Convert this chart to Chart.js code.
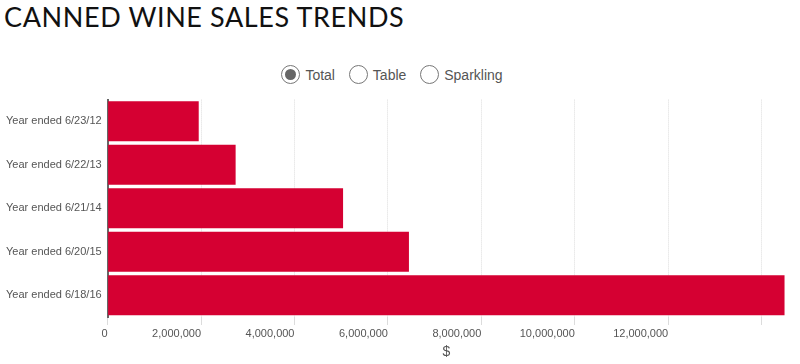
<!DOCTYPE html>
<html lang="en">
<head>
    <meta charset="UTF-8">
    <title>Canned Wine Sales Trends</title>
    <script src="https://cdn.jsdelivr.net/npm/chart.js@4/dist/chart.umd.min.js"></script>
    <style>
        * {
            margin: 0;
            padding: 0;
            box-sizing: border-box;
        }

        body {
            width: 800px;
            height: 364px;
            background: #ffffff;
            position: relative;
            overflow: hidden;
            font-family: 'Liberation Sans', Arial, sans-serif;
        }

        h1 {
            position: absolute;
            left: 4px;
            top: 0px;
            font-family: 'Lato', sans-serif;
            font-weight: 400;
            font-size: 27px;
            letter-spacing: 0.6px;
            color: #111;
        }

        .filters {
            position: absolute;
            top: 65px;
            left: 0;
            width: 784px;
            text-align: center;
            font-size: 14px;
            color: #555;
        }

        .filters label {
            display: inline-flex;
            align-items: center;
            margin: 0 5px;
        }

        .filters input {
            appearance: none;
            width: 19px;
            height: 19px;
            border: 1.5px solid #777;
            border-radius: 50%;
            margin-right: 5px;
            position: relative;
        }

        .filters input:checked::after {
            content: '';
            position: absolute;
            left: 2.5px;
            top: 2.5px;
            width: 11px;
            height: 11px;
            border-radius: 50%;
            background: #666;
        }

        .chart-box {
            position: absolute;
            left: 0;
            top: 87px;
            width: 800px;
            height: 277px;
        }
    </style>
</head>
<body>
    <h1>CANNED WINE SALES TRENDS</h1>

    <div class="filters">
        <label><input type="radio" name="type" checked>Total</label>
        <label><input type="radio" name="type">Table</label>
        <label><input type="radio" name="type">Sparkling</label>
    </div>

    <div class="chart-box">
        <canvas id="salesChart"></canvas>
    </div>

    <script>
        // data
        const years = [
            'Year ended 6/23/12',
            'Year ended 6/22/13',
            'Year ended 6/21/14',
            'Year ended 6/20/15',
            'Year ended 6/18/16'
        ];
        const totalSales = [1950000, 2740000, 5040000, 6450000, 14490000];
        const axisMax = 14500000;
        const xTicks = [0, 2000000, 4000000, 6000000, 8000000, 10000000, 12000000, 14000000];
        const lastLabel = 12000000;

        const ctx = document.getElementById('salesChart').getContext('2d');
        new Chart(ctx, {
            type: 'bar',
            data: {
                labels: years,
                datasets: [{
                    label: 'Total',
                    data: totalSales,
                    backgroundColor: '#d50032',
                    barPercentage: 0.92,
                    categoryPercentage: 1.0
                }]
            },
            options: {
                indexAxis: 'y',
                responsive: true,
                maintainAspectRatio: false,
                animation: false,
                layout: {
                    padding: { top: 3, right: 15, left: 0, bottom: 3 }
                },
                plugins: {
                    legend: { display: false },
                    tooltip: { enabled: false }
                },
                scales: {
                    x: {
                        min: 0,
                        max: axisMax,
                        afterBuildTicks: (scale) => {
                            scale.ticks = xTicks.map(v => ({ value: v }));
                        },
                        ticks: {
                            autoSkip: false,
                            maxRotation: 0,
                            align: 'end',
                            color: '#555',
                            font: { family: 'Liberation Sans', size: 11 },
                            padding: 2,
                            callback: (v) => v > lastLabel ? '' : v.toLocaleString('en-US')
                        },
                        grid: {
                            color: '#dcdcdc',
                            tickLength: 8,
                            drawTicks: true
                        },
                        border: { display: false, dash: [1, 1] },
                        title: {
                            display: true,
                            text: '$',
                            color: '#555',
                            font: { family: 'Liberation Sans', size: 14 },
                            padding: { top: 2, bottom: 0 }
                        }
                    },
                    y: {
                        ticks: {
                            color: '#555',
                            font: { family: 'Liberation Sans', size: 11 },
                            padding: 6
                        },
                        grid: { display: false, drawTicks: false },
                        border: { display: true, color: '#666', width: 2 }
                    }
                }
            }
        });
    </script>
</body>
</html>
